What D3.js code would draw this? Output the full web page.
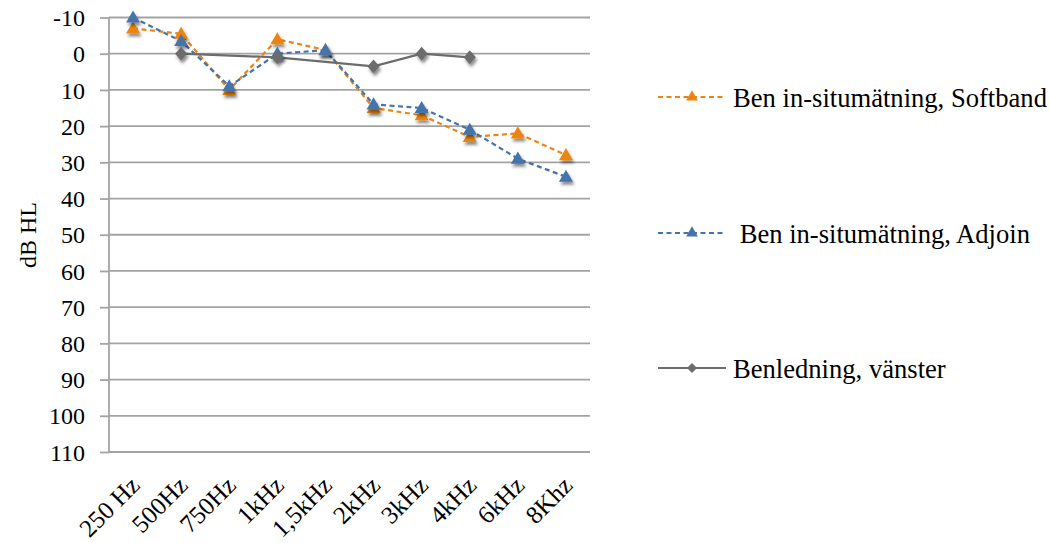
<!DOCTYPE html>
<html>
<head>
<meta charset="utf-8">
<script src="https://cdn.jsdelivr.net/npm/d3@7/dist/d3.min.js"></script>
<style>
  html, body { margin: 0; padding: 0; background: #fff; }
  svg { display: block; }
  svg text { font-family: "Liberation Serif", "Times New Roman", serif; }
</style>
</head>
<body>
<svg id="chart" width="1050" height="543"></svg>
<script>
// Audiogram categories (frequencies)
const frequencies = ["250 Hz", "500Hz", "750Hz", "1kHz", "1,5kHz", "2kHz", "3kHz", "4kHz", "6kHz", "8Khz"];

// Hearing thresholds in dB HL (null = no measurement)
const softband = [-7, -5.5, 10, -4, -1, 15, 17, 23, 22, 28];
const adjoin   = [-10, -3.5, 9, 0, -1, 14, 15, 21, 29, 34];
const benledningVanster = [null, 0, null, 1, null, 3.5, 0, 1, null, null];

const yTicks = [-10, 0, 10, 20, 30, 40, 50, 60, 70, 80, 90, 100, 110];

const seriesNames = ["Ben in-situmätning, Softband", " Ben in-situmätning, Adjoin", "Benledning, vänster"];

const series = [
  { name: seriesNames[0], values: softband, color: "#EC8510", dash: "5,3.5", marker: "triangle" },
  { name: seriesNames[1], values: adjoin, color: "#4573AC", dash: "5,3.5", marker: "triangle" },
  { name: seriesNames[2], values: benledningVanster, color: "#6C6C6C", dash: null, marker: "diamond" }
];

const serif = "'Liberation Serif', 'Times New Roman', serif";
const svg = d3.select("#chart");

const defs = svg.append("defs");
const shadow = defs.append("filter").attr("id", "mshadow")
  .attr("x", "-50%").attr("y", "-50%").attr("width", "200%").attr("height", "200%");
shadow.append("feDropShadow")
  .attr("dx", 1.5).attr("dy", 3).attr("stdDeviation", 1.6)
  .attr("flood-color", "#000").attr("flood-opacity", 0.45);

const plot = { left: 109, right: 590, top: 17.5, bottom: 452 };

const x = d3.scaleBand().domain(frequencies).range([plot.left, plot.right]);
const y = d3.scaleLinear().domain([-10, 110]).range([plot.top, plot.bottom]);
const cx = d => x(d) + x.bandwidth() / 2;

// Horizontal gridlines
svg.append("g").selectAll("line").data(yTicks).join("line")
  .attr("x1", plot.left).attr("x2", plot.right)
  .attr("y1", d => y(d)).attr("y2", d => y(d))
  .attr("stroke", "#A3A3A3").attr("stroke-width", 1.8);

// Y axis with outward ticks and labels
const yAxis = d3.axisLeft(y).tickValues(yTicks).tickSize(9).tickPadding(15)
  .tickFormat(d => String(d));
const gy = svg.append("g").attr("transform", `translate(${plot.left},0)`).call(yAxis)
  .attr("font-family", serif).attr("font-size", 24);
gy.select(".domain").attr("stroke", "#A3A3A3").attr("stroke-width", 1.8)
  .attr("d", `M0,${plot.top}V${plot.bottom}`);
gy.selectAll(".tick line").attr("stroke", "#A3A3A3").attr("stroke-width", 1.8);
gy.selectAll(".tick text").attr("fill", "#000").attr("dy", "0.34em");

// X axis category labels, rotated
const xAxis = d3.axisBottom(x).tickSize(0).tickPadding(0);
const gx = svg.append("g").attr("transform", `translate(0,${plot.bottom})`).call(xAxis)
  .attr("font-family", serif).attr("font-size", 25);
gx.select(".domain").remove();
gx.selectAll(".tick text")
  .attr("fill", "#000")
  .attr("text-anchor", "end").attr("dy", null).attr("y", 0)
  .attr("transform", "translate(8,35) rotate(-45)");

// Y axis title
svg.append("text")
  .attr("transform", "translate(36,235) rotate(-90)")
  .attr("text-anchor", "middle")
  .attr("font-family", serif).attr("font-size", 24).attr("fill", "#000")
  .text("dB HL");

const trianglePath = d3.symbol().type(d3.symbolTriangle).size(85);
const diamondPath = "M0,-7L6,0L0,7L-6,0Z";

function drawMarker(g, type, color) {
  if (type === "triangle") {
    g.append("path").attr("d", trianglePath()).attr("transform", "translate(0,1)").attr("fill", color);
  } else {
    g.append("path").attr("d", diamondPath).attr("fill", color);
  }
}

// Series lines and markers
series.forEach(s => {
  const pts = frequencies.map((f, i) => ({ f, v: s.values[i] })).filter(p => p.v !== null);
  const line = d3.line().x(p => cx(p.f)).y(p => y(p.v));
  svg.append("path").datum(pts)
    .attr("d", line).attr("fill", "none")
    .attr("stroke", s.color).attr("stroke-width", 2.2)
    .attr("stroke-dasharray", s.dash);
});
series.forEach(s => {
  const pts = frequencies.map((f, i) => ({ f, v: s.values[i] })).filter(p => p.v !== null);
  const mg = svg.append("g").attr("filter", "url(#mshadow)");
  pts.forEach(p => {
    const g = mg.append("g").attr("transform", `translate(${cx(p.f)},${y(p.v)})`);
    drawMarker(g, s.marker, s.color);
  });
});

// Legend
const legendY = [97, 233, 368];
series.forEach((s, i) => {
  const g = svg.append("g").attr("transform", `translate(0,${legendY[i]})`);
  g.append("line").attr("x1", 658).attr("x2", 726).attr("y1", 0).attr("y2", 0)
    .attr("stroke", s.color).attr("stroke-width", 2)
    .attr("stroke-dasharray", s.dash);
  const m = g.append("g").attr("transform", "translate(692,0)");
  if (s.marker === "triangle") {
    m.append("path").attr("d", d3.symbol().type(d3.symbolTriangle).size(60)()).attr("fill", s.color);
  } else {
    m.append("path").attr("d", "M0,-5L5,0L0,5L-5,0Z").attr("fill", s.color);
  }
  g.append("text").attr("x", 733).attr("y", 10)
    .attr("font-family", serif).attr("font-size", 26.6).attr("fill", "#000")
    .attr("xml:space", "preserve").style("white-space", "pre")
    .text(s.name);
});
</script>
</body>
</html>
